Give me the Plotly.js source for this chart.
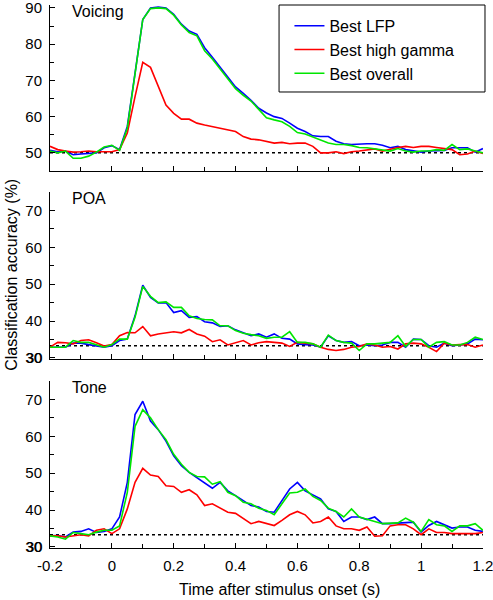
<!DOCTYPE html>
<html><head><meta charset="utf-8">
<script src="https://cdn.plot.ly/plotly-3.0.1.min.js"></script>
<style>html,body{margin:0;padding:0;background:#fff}#chart{width:493px;height:600px}</style>
</head><body><div id="chart"></div>
<script>
// ---- data ----
const time = [-0.2,-0.175,-0.15,-0.125,-0.1,-0.075,-0.05,-0.025,0,
  0.025,0.05,0.075,0.1,0.125,0.15,0.175,0.2,0.225,0.25,0.275,0.3,0.325,0.35,0.375,0.4,0.425,0.45,0.475,0.5,
  0.525,0.55,0.575,0.6,0.625,0.65,0.675,0.7,0.725,0.75,0.775,0.8,0.825,0.85,0.875,0.9,0.925,0.95,0.975,1.0,
  1.025,1.05,1.075,1.1,1.125,1.15,1.175,1.2];

const seriesNames = ['Best LFP','Best high gamma','Best overall'];
const panelNames = ['Voicing','POA','Tone'];
const chanceLevels = [50, 33.3, 33.3];

const voicingLFP = [50.7,50.3,50.5,49.5,49.7,49.8,50,51.4,52,
  50.9,57.3,72,86.8,90,90.2,90,88.2,85.5,83.6,82.7,79,76.4,73.6,71,68.2,66.4,64.5,62.3,61,
  60,59.5,58.2,56.8,55.9,54.7,54.5,54.5,53.2,52.5,52.3,52.5,52.5,52.5,52.1,51.4,51.8,50.9,50.6,50.2,50.5,50.6,50.7,51.4,51.5,51.4,50.2,51.2];
const voicingGamma = [51.8,50.9,50.5,50.2,50.3,50.5,50.3,50.2,50.3,
  50.9,55.5,65.5,75,73.6,68.6,63.2,60.9,59.3,59.3,58.2,57.7,57.3,56.8,56.4,55.9,54.5,53.8,53.6,53.2,
  52.7,52.9,52.5,52.7,52.7,51.8,50,50,50.3,49.8,50.3,50.5,50.7,51.1,50.5,51.1,51.5,51.8,51.5,51.8,51.8,51.5,51.1,50.9,49.5,49.7,50.5,49.8];
const voicingOverall = [50.5,50,50.5,48.5,48.5,49.1,50.2,51.6,52.1,
  50.7,56.8,71.8,86.8,89.8,90,89.8,88,85.3,83.2,82.3,78.2,75.9,73.2,70.6,67.7,65.9,64.3,62,59.7,
  59.1,58.6,57.3,55.6,55.2,54.3,53.6,52.7,52.3,52.3,52,51.5,51.4,51.1,50.9,50.5,51.2,50.5,50.2,50.5,50.5,50.9,50.7,52.3,50.9,51.1,50.5,50];

const poaLFP = [32.9,32.9,32.9,34,34,33.6,33.3,32.9,33.3,
  34.7,35.1,41.4,49.7,46.4,44.9,45,42.3,42.8,41,41.2,39.8,39.5,38.5,38.7,37.6,36.9,36,36.5,35.6,
  36.5,35.3,35.1,33.8,33.6,33.5,32.9,36,34.7,34.2,34.4,33.3,33.5,33.3,33.5,34.2,34.2,32.9,35.1,35,33.3,32.9,34,33.3,33.5,33.8,35.1,34.9];
const poaGamma = [32.9,34.2,34.1,33.8,34.7,34.9,34.1,33.2,33.6,
  36,36.9,36.8,38.5,36,36.5,36.8,37.1,36.8,37.7,36.5,35.9,34.4,34.9,33.5,34.2,34.7,33.5,34.1,34.4,
  34.2,34,33.1,34.2,34,33.8,32.9,32.3,32,32.3,32.9,33.1,33.8,33.5,32.9,33.1,32.4,33.8,34,33.8,32.9,31.7,34,33.5,33.6,33.6,32.9,33.5];
const poaOverall = [32.9,32.9,32.9,34.7,34.2,34.2,33.6,32.9,33.6,
  35.1,35.1,41,49.4,46.7,45,45.2,43.7,43.7,41.4,40.7,40.4,40.3,38.7,38.7,37.4,36.7,36.3,36,35.3,
  35.6,35.6,37.1,34.2,34.2,33.8,32.9,36.2,34.7,34.2,34,32,33.8,33.8,34,34.2,36,33.1,35,35,32.9,34.2,34.4,33.5,33.5,34.2,35.6,35];

const toneLFP = [33,33.1,32.7,34,34.2,34.9,33.9,34.2,34.9,
  38.1,47.5,65.9,69.5,64.1,61.8,58.7,54.7,52,50.2,48.8,47.5,45.9,47.5,45.2,43.9,42.6,41.2,40.8,39.6,
  39.4,42.6,45.7,47.5,45.2,44.1,43,40.3,39.6,36.9,38.1,38.1,37.4,38.1,36.3,36.3,36.5,36.7,36.7,34,35.8,36.9,36,35.1,35.4,35.4,34.5,34.2];
const toneGamma = [33,33,32.7,33.1,33.3,33,34.5,34.9,33.6,
  34.9,40.3,47.5,51.3,49.5,49.1,46.6,46.4,44.8,45.5,44.1,41.2,41.7,40.5,39.4,39.1,37.6,36.3,36.9,36.3,
  35.8,37.2,38.7,39.6,38.7,36.5,36.9,38.1,35.7,34.9,34.9,34.5,35.4,32.9,33,35.7,36,36,34.9,33.3,34.9,33.9,33.9,33.6,33.6,33.6,33.6,33.9];
const toneOverall = [33,32.7,32.1,33.9,33.6,33.3,34,34.5,34.5,
  35.7,44.8,62.7,67.2,65,61.8,59.1,55.1,52.4,50.2,49.1,49,47,47.7,44.8,43.9,42.1,41.7,40.5,39.9,
  38.7,41.7,44.6,44.8,45.7,43.7,42.6,40.5,39.6,38.1,40.3,38.1,37.6,36.9,36.3,36.3,36.5,37.8,36.7,34.2,37.4,36,35.7,34.2,35.7,35.7,36.3,34.5];

const xTickVals = [-0.2,0,0.2,0.4,0.6,0.8,1,1.2];
const xTickText = ['-0.2','0','0.2','0.4','0.6','0.8','1','1.2'];
const yTickVals = [[50,60,70,80,90],[30,40,50,60,70],[30,40,50,60,70]];

// ---- drawing ----
const panelData = [
  [voicingLFP, voicingGamma, voicingOverall],
  [poaLFP, poaGamma, poaOverall],
  [toneLFP, toneGamma, toneOverall]
];
const colors = ['#0000ff','#ff0000','#00e600'];
const FONT = 'Liberation Sans, Arial, Helvetica, sans-serif';

const traces = [];
panelData.forEach((ser, p) => {
  ser.forEach((vals, s) => {
    traces.push({
      x: time, y: vals, type: 'scatter', mode: 'lines',
      name: seriesNames[s], legendgroup: seriesNames[s],
      showlegend: p === 0,
      line: {color: colors[s], width: 1.6},
      xaxis: 'x' + (p + 1), yaxis: 'y' + (p + 1),
      hoverinfo: 'skip'
    });
  });
});

const domains = [[0.6943, 1], [0.3481, 0.6556], [0, 0.3076]];
const ranges = [[45, 90.8], [29.7, 75], [29.7, 75]];

const layout = {
  width: 493, height: 600,
  margin: {l: 50, r: 10, t: 5, b: 52},
  paper_bgcolor: '#fff', plot_bgcolor: '#fff',
  font: {family: FONT, size: 15, color: '#000'},
  showlegend: true,
  legend: {
    x: 0.553, y: 0.993, xanchor: 'left', yanchor: 'top',
    xref: 'paper', yref: 'paper',
    borderwidth: 0, bgcolor: 'rgba(0,0,0,0)',
    font: {family: FONT, size: 16, color: '#000'},
    tracegroupgap: 0, itemwidth: 30
  },
  shapes: [{
    type: 'rect', xref: 'paper', yref: 'paper',
    x0: 0.529, x1: 1.0046, y0: 0.8398, y1: 1,
    line: {color: '#000', width: 1}, fillcolor: '#fff', layer: 'above'
  }],
  annotations: []
};

for (let p = 0; p < 3; p++) {
  const xa = 'xaxis' + (p + 1), ya = 'yaxis' + (p + 1);
  layout[xa] = {
    domain: [0, 1], range: [-0.2, 1.2002], anchor: 'y' + (p + 1),
    tickmode: 'array', tickvals: xTickVals, ticktext: xTickText,
    showticklabels: p === 2, ticklabeloverflow: 'allow',
    ticks: 'inside', ticklen: 5, tickwidth: 1, tickcolor: '#000',
    minor: {dtick: 0.1, tick0: 0, ticks: 'inside', ticklen: 4, tickcolor: '#000', showgrid: false},
    showline: true, linecolor: '#000', linewidth: 1,
    showgrid: false, zeroline: false,
    tickfont: {family: FONT, size: 15, color: '#000'},
    ticklabelstandoff: 4
  };
  layout[ya] = {
    domain: domains[p], range: ranges[p], anchor: 'x' + (p + 1),
    tickmode: 'array', tickvals: yTickVals[p], ticklabeloverflow: 'allow',
    ticks: 'inside', ticklen: 5, tickwidth: 1, tickcolor: '#000',
    minor: {dtick: 5, tick0: 0, ticks: 'inside', ticklen: 4, tickcolor: '#000', showgrid: false},
    showline: true, linecolor: '#000', linewidth: 1,
    showgrid: false, zeroline: false,
    tickfont: {family: FONT, size: 15, color: '#000'},
    ticklabelstandoff: 4
  };
  layout.shapes.push({
    type: 'line', xref: 'x' + (p + 1), yref: 'y' + (p + 1),
    x0: -0.2, x1: 1.2, y0: chanceLevels[p], y1: chanceLevels[p],
    line: {color: '#000', width: 1.5, dash: 'dot'}, layer: 'below'
  });
  layout.annotations.push({
    text: panelNames[p], xref: 'x' + (p + 1) + ' domain', yref: 'y' + (p + 1) + ' domain',
    x: 0.046, y: 1, xanchor: 'left', yanchor: 'top', yshift: 4, showarrow: false,
    font: {family: FONT, size: 16, color: '#000'}
  });
  // Plotly suppresses the label at the axis corner; draw that tick label as text at its value
  const lowest = yTickVals[p][0];
  if (lowest - ranges[p][0] < 1) {
    layout.annotations.push({
      text: String(lowest), xref: 'paper', yref: 'y' + (p + 1),
      x: -0.011547, y: lowest, xanchor: 'right', yanchor: 'middle', showarrow: false,
      font: {family: FONT, size: 15, color: '#000'}
    });
  }
}

layout.annotations.push({
  text: 'Classification accuracy (%)', xref: 'paper', yref: 'paper',
  x: -0.0878, y: 0.503, xanchor: 'center', yanchor: 'middle', textangle: -90,
  showarrow: false, font: {family: FONT, size: 16, color: '#000'}
});
layout.annotations.push({
  text: 'Time after stimulus onset (s)', xref: 'paper', yref: 'paper',
  x: 0.529, y: -0.0773, xanchor: 'center', yanchor: 'middle',
  showarrow: false, font: {family: FONT, size: 16, color: '#000'}
});

Plotly.newPlot('chart', traces, layout, {displayModeBar: false, staticPlot: true});
</script></body></html>
